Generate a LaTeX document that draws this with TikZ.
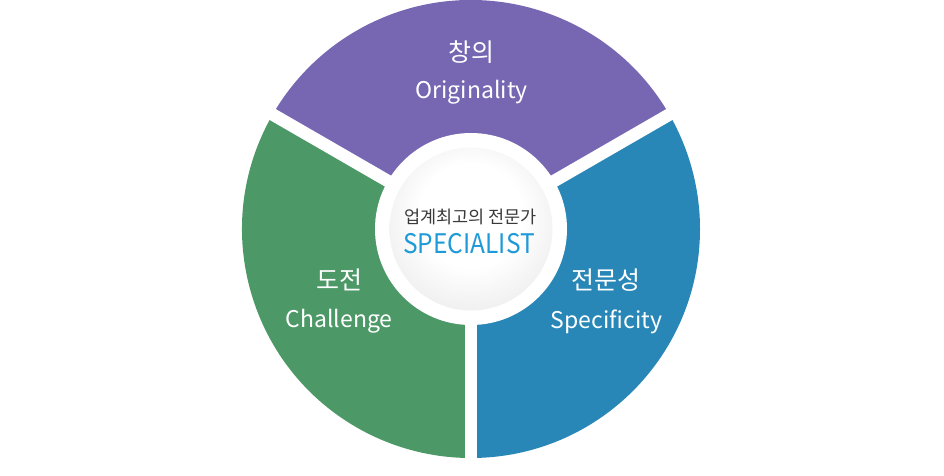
\documentclass[tikz,border=0pt]{standalone}
\usepackage{fontspec}
\setmainfont{Noto Sans CJK KR}
\definecolor{cpurple}{HTML}{7767B3}
\definecolor{cgreen}{HTML}{4C9867}
\definecolor{cblue}{HTML}{2987B8}
\definecolor{cspec}{HTML}{1E9AD8}
\definecolor{cdark}{HTML}{3A3A3A}
\pgfdeclareradialshading{ctrshade}{\pgfpoint{0bp}{6bp}}{color(0bp)=(white); color(16bp)=(white); color(50bp)=(black!17)}
\begin{document}
\begin{tikzpicture}[x=1pt,y=1pt,
  ttl/.style={text=white, inner sep=0pt, font=\fontsize{25}{30}\selectfont},
  eng/.style={text=white, inner sep=0pt, anchor=base, font=\fontsize{23}{28}\selectfont},
  ctrk/.style={text=cdark, inner sep=0pt, font=\fontsize{17.5}{21}\selectfont},
  spec/.style={text=cspec, inner sep=0pt, anchor=base, yscale=1.1, font=\fontsize{24.5}{30}\selectfont},
  gapline/.style={white, line width=12.5pt}]
\useasboundingbox (0,0) rectangle (944,-475);
\fill[white] (0,0) rectangle (944,-475);
\coordinate (C) at (471,-229);
% sectors
\fill[cpurple] (C) -- ([shift={(30:229)}]C) arc[start angle=30,end angle=150,radius=229] -- cycle;
\fill[cgreen] (C) -- ([shift={(150:229)}]C) arc[start angle=150,end angle=270,radius=229] -- cycle;
\fill[cblue] (C) -- ([shift={(270:229)}]C) arc[start angle=270,end angle=390,radius=229] -- cycle;
% gaps
\coordinate (g1) at ([shift={(30:240)}]C);
\coordinate (g2) at ([shift={(150:240)}]C);
\coordinate (g3) at ([shift={(270:240)}]C);
\draw[gapline] (C) -- (g1);
\draw[gapline] (C) -- (g2);
\draw[gapline] (C) -- (g3);
% centre
\fill[white] (C) circle[radius=96];
\shade[shading=ctrshade] (C) circle[radius=81.5];
% texts
\node[ttl] (t1) at (471.7,-52.5) {창의};
\node[eng] (e1) at (471.7,-98.3) {Originality};
\node[ttl] (t2) at (339,-280) {도전};
\node[eng] (e2) at (339,-327.7) {Challenge};
\node[ttl] (t3) at (606,-280) {전문성};
\node[eng] (e3) at (606.5,-328.3) {Specificity};
\node[ctrk] (ck) at (470.5,-216.7) {업계최고의 전문가};
\node[spec] (sp) at (469,-253.3) {SPECIALIST};
\end{tikzpicture}
\end{document}
